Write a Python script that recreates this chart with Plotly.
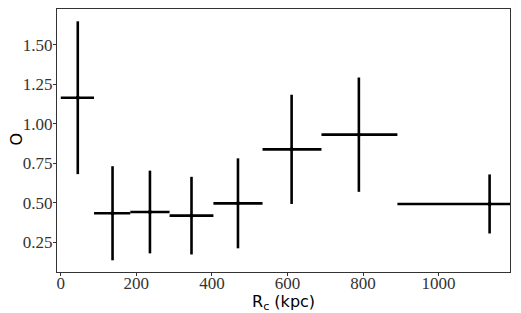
import plotly.graph_objects as go

r_c = [45, 137, 236, 346, 469, 611, 789, 1135]
bin_lo = [0, 88, 184, 288, 404, 534, 690, 891]
bin_hi = [88, 184, 288, 404, 534, 690, 891, 1380]
o_val = [1.166, 0.434, 0.442, 0.419, 0.497, 0.839, 0.932, 0.493]
o_err = [0.484, 0.298, 0.262, 0.246, 0.285, 0.346, 0.362, 0.187]

x_ticks = [0, 200, 400, 600, 800, 1000]
y_ticks = [0.25, 0.50, 0.75, 1.00, 1.25, 1.50]
y_tick_labels = ["0.25", "0.50", "0.75", "1.00", "1.25", "1.50"]

err_plus = [h - x for h, x in zip(bin_hi, r_c)]
err_minus = [x - l for l, x in zip(bin_lo, r_c)]

fig = go.Figure(go.Scatter(
    x=r_c, y=o_val, mode="markers",
    marker=dict(color="black", size=4),
    error_x=dict(type="data", array=err_plus, arrayminus=err_minus,
                 color="black", thickness=2.6, width=0),
    error_y=dict(type="data", array=o_err, color="black", thickness=2.6, width=0),
    cliponaxis=True,
))

tick_font = dict(family="Liberation Serif, DejaVu Serif, serif", size=17, color="#333333")
title_font = dict(family="DejaVu Sans, sans-serif", size=16, color="black")

# page body has an 8px margin, so the figure is shrunk by that amount
fig.update_layout(
    width=513, height=305,
    margin=dict(l=49, r=11, t=1, b=41, autoexpand=False),
    paper_bgcolor="white", plot_bgcolor="white",
    showlegend=False,
    xaxis=dict(range=[-10, 1189], tickvals=x_ticks, ticks="outside", ticklen=3,
               tickcolor="#333333", showline=True, linecolor="#333333", linewidth=1,
               mirror=True, showgrid=False, zeroline=False, tickfont=tick_font,
               automargin=False, ticklabelstandoff=-7),
    yaxis=dict(range=[0.062, 1.728], tickvals=y_ticks, ticktext=y_tick_labels,
               ticks="outside", ticklen=3, tickcolor="#333333", showline=True,
               linecolor="#333333", linewidth=1, mirror=True, showgrid=False,
               zeroline=False, tickfont=tick_font, automargin=False,
               ticklabelstandoff=-3),
    annotations=[
        dict(text="R<sub>c</sub> (kpc)", xref="paper", yref="paper", x=0.5, y=-0.115,
             xanchor="center", yanchor="middle", showarrow=False, font=title_font),
        dict(text="O", xref="paper", yref="paper", x=-0.09, y=0.505, textangle=-90,
             xanchor="center", yanchor="middle", showarrow=False, font=title_font),
    ],
)

fig.write_html("out.html")
